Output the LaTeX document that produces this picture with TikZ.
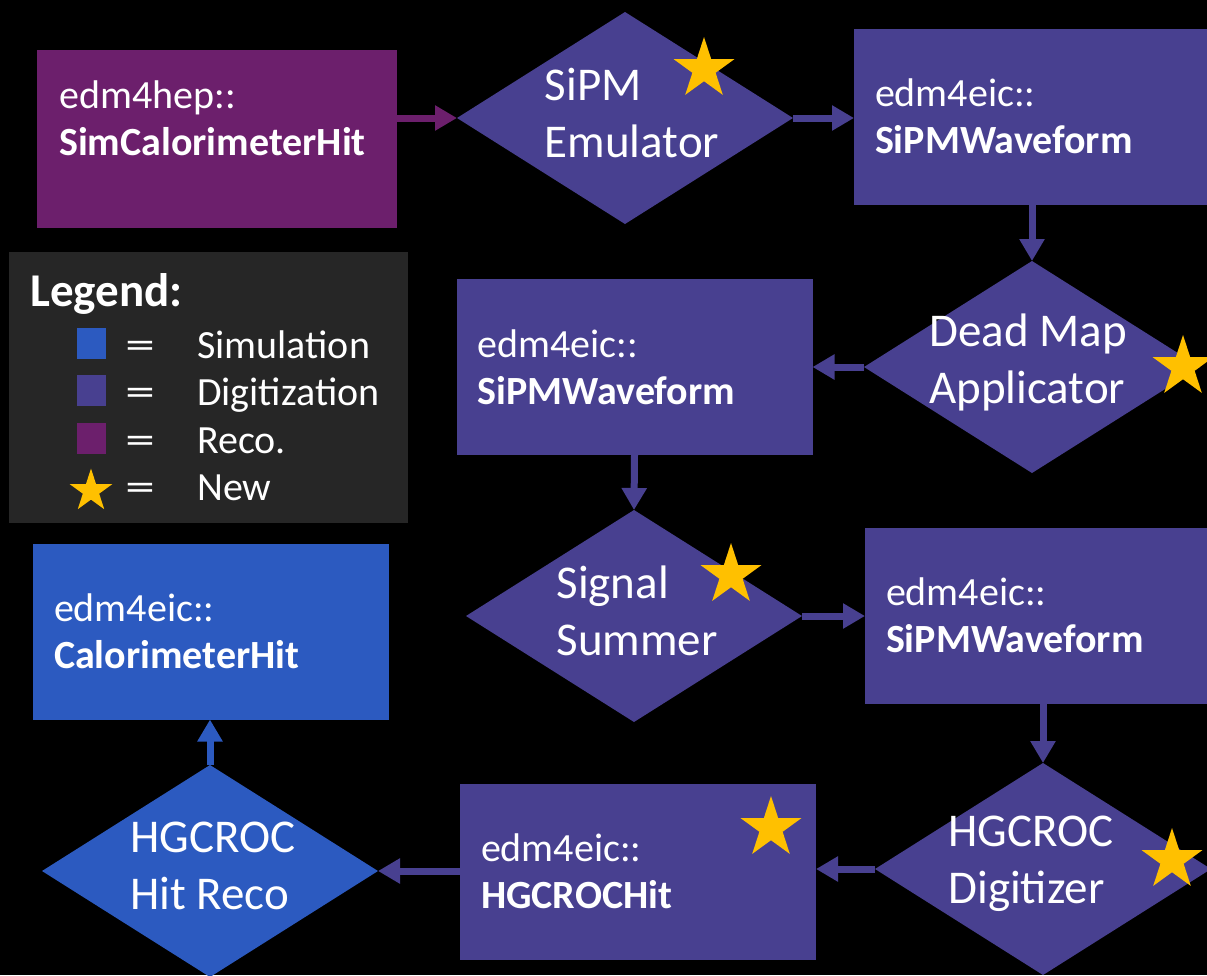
\documentclass[tikz,border=0pt]{standalone}
\usepackage{fontspec}
\setmainfont{Carlito}
\usepackage{tikz}
\usetikzlibrary{arrows.meta,positioning,shapes.geometric}

\definecolor{cSim}{RGB}{44,90,192}
\definecolor{cDigi}{RGB}{72,64,144}
\definecolor{cReco}{RGB}{108,31,108}
\definecolor{cNew}{RGB}{255,192,0}
\definecolor{cLeg}{RGB}{38,38,38}

\begin{document}
\begin{tikzpicture}[x=1pt,y=-1pt,text=white,
    flow/.style={line width=7pt,-{Triangle[length=22pt,width=24pt]}},
    coll/.style={minimum width=356pt,minimum height=176pt,inner xsep=21pt,inner ysep=0pt,
      outer sep=0pt,text width=314pt,align=left,font=\fontsize{40}{47}\selectfont},
    algo/.style={diamond,minimum width=336pt,minimum height=212pt,inner sep=0pt,outer sep=0pt},
    algotxt/.style={align=left,inner sep=0pt,yshift=5pt,font=\fontsize{47}{57}\selectfont},
    newstar/.style={star,star points=5,star point ratio=2.618,fill=cNew,inner sep=0pt,minimum size=64pt},
    legtxt/.style={anchor=base west,inner sep=0pt,font=\fontsize{40}{40}\selectfont}]
    \fill[black] (0,0) rectangle (1207,975);
    \useasboundingbox (0,0) rectangle (1207,975);
    % ---------- top row ----------
    \node[coll,fill=cReco,minimum width=360pt,minimum height=178pt] (simhit) at (217,139) {};
    \node[align=left,inner sep=0pt,font=\fontsize{40}{47}\selectfont,anchor=north west,
      below right=31pt and 22pt of simhit.north west] (simhittxt)
      {edm4hep::\\\textbf{SimCalorimeterHit}};
    \node[algo,fill=cDigi] (emu) at (625,118) {};
    \node[algotxt,xshift=7pt] (emutxt) at (emu) {SiPM\\Emulator};
    \node[newstar] (newemu) at (704,69) {};
    \node[coll,fill=cDigi] (wfa) at (1032,116.5) {edm4eic::\\\textbf{SiPMWaveform}};
    % ---------- second row ----------
    \node[algo,fill=cDigi] (dead) at (1032,367) {};
    \node[algotxt,xshift=-4pt] (deadtxt) at (dead) {Dead Map\\Applicator};
    \node[newstar] (newdead) at (1183,367) {};
    \node[coll,fill=cDigi] (wfb) at (634.5,367) {edm4eic::\\\textbf{SiPMWaveform}};
    % ---------- third row ----------
    \node[algo,fill=cDigi] (sum) at (634,616) {};
    \node[algotxt,xshift=3pt] (sumtxt) at (sum) {Signal\\Summer};
    \node[newstar] (newsum) at (731,575) {};
    \node[coll,fill=cDigi] (wfc) at (1043,615.5) {edm4eic::\\\textbf{SiPMWaveform}};
    \node[coll,fill=cSim] (calohit) at (211,631.5) {edm4eic::\\\textbf{CalorimeterHit}};
    % ---------- bottom row ----------
    \node[algo,fill=cDigi] (digi) at (1043,869) {};
    \node[algotxt,xshift=-12pt] (digitxt) at (digi) {HGCROC\\Digitizer};
    \node[newstar] (newdigi) at (1172,860) {};
    \node[coll,fill=cDigi] (hgchit) at (638,871.5) {edm4eic::\\\textbf{HGCROCHit}};
    \node[newstar] (newhgc) at (771,828) {};
    \node[algo,fill=cSim] (hitreco) at (210,871) {};
    \node[algotxt,xshift=3pt] (hitrecotxt) at (hitreco) {HGCROC\\Hit Reco};
    % ---------- flow ----------
    \draw[flow,cReco] (simhit.east |- emu.west) -- (emu.west);
    \draw[flow,cDigi] (emu.east) -- (wfa.west |- emu.east);
    \draw[flow,cDigi] (wfa.south) -- (dead.north);
    \draw[flow,cDigi] (dead.west) -- (wfb.east |- dead.west);
    \draw[flow,cDigi] (wfb.south) -- (sum.north);
    \draw[flow,cDigi] (sum.east) -- (wfc.west |- sum.east);
    \draw[flow,cDigi] (wfc.south) -- (digi.north);
    \draw[flow,cDigi] (digi.west) -- (hgchit.east |- digi.west);
    \draw[flow,cDigi] (hgchit.west |- hitreco.east) -- (hitreco.east);
    \draw[flow,cSim] (hitreco.north) -- (calohit.south -| hitreco.north);
    % ---------- legend ----------
    \node[fill=cLeg,minimum width=399pt,minimum height=271pt,inner sep=0pt,anchor=north west] (legend) at (9,252) {};
    \node[legtxt,font=\fontsize{47}{47}\bfseries] (legtitle) at (30,306) {Legend:};
    \foreach \c/\t/\y [count=\i] in {cSim/Simulation/358,cDigi/Digitization/405,cReco/Reco./453}{
      \node[fill=\c,minimum width=29pt,minimum height=31pt,inner sep=0pt] (key\i) at (91,\y-15) {};
      \node[legtxt,anchor=base] (eq\i) at (140,\y) {\scalebox{1.5}[1]{=}};
      \node[legtxt] (lab\i) at (197,\y) {\t};
    }
    \node[newstar,minimum size=45pt] (key4) at (91,491) {};
    \node[legtxt,anchor=base] (eq4) at (140,500) {\scalebox{1.5}[1]{=}};
    \node[legtxt] (lab4) at (197,500) {New};
  \end{tikzpicture}
\end{document}
